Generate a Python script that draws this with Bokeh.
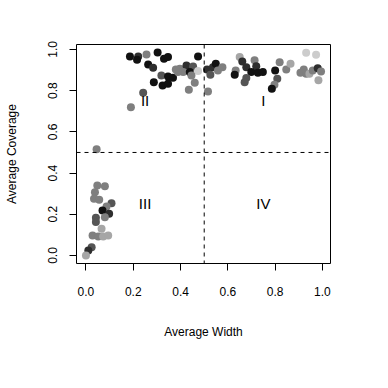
from bokeh.plotting import figure
from bokeh.models import Range1d, Span, ColumnDataSource, FixedTicker
from bokeh.embed import file_html
from bokeh.resources import INLINE
from bokeh.core.properties import value

# ---- data ----
avg_width = [
    0.186, 0.221, 0.216, 0.256, 0.303, 0.330, 0.347, 0.474, 0.263, 0.284,
    0.397, 0.425, 0.453, 0.474, 0.411, 0.439, 0.319, 0.347, 0.368, 0.446,
    0.287, 0.324, 0.347, 0.460, 0.435, 0.242, 0.190, 0.389, 0.380,
    0.512, 0.537, 0.549, 0.526, 0.558, 0.577, 0.516, 0.633, 0.629, 0.650,
    0.661, 0.678, 0.713, 0.720, 0.699, 0.727, 0.748, 0.678, 0.671, 0.800,
    0.819, 0.847, 0.865, 0.809, 0.797, 0.786, 0.931, 0.973, 0.907, 0.921,
    0.931, 0.945, 0.959, 0.980, 0.994, 0.983,
    0.045, 0.048, 0.080, 0.038, 0.034, 0.056, 0.108, 0.087, 0.070, 0.098,
    0.080, 0.042, 0.042, 0.066, 0.028, 0.052, 0.073, 0.094, 0.024, 0.010,
    0.000,
]
avg_coverage = [
    0.966, 0.966, 0.950, 0.976, 0.985, 0.955, 0.963, 0.966, 0.927, 0.911,
    0.906, 0.922, 0.917, 0.895, 0.890, 0.890, 0.874, 0.869, 0.863, 0.874,
    0.841, 0.825, 0.833, 0.838, 0.804, 0.790, 0.720, 0.890, 0.903,
    0.903, 0.914, 0.931, 0.877, 0.898, 0.914, 0.796, 0.898, 0.877, 0.963,
    0.942, 0.914, 0.947, 0.919, 0.890, 0.887, 0.890, 0.861, 0.841, 0.898,
    0.938, 0.903, 0.931, 0.858, 0.829, 0.809, 0.984, 0.974, 0.887, 0.903,
    0.882, 0.882, 0.898, 0.909, 0.893, 0.850,
    0.515, 0.340, 0.336, 0.307, 0.275, 0.270, 0.254, 0.238, 0.218, 0.202,
    0.186, 0.183, 0.162, 0.130, 0.097, 0.092, 0.092, 0.097, 0.040, 0.024,
    0.000,
]
shade = [
    "black", "dark", "black", "gray", "black", "black", "black", "black", "black", "dark",
    "gray", "dark", "darkgray", "light", "gray", "black", "darkgray", "black", "black", "gray",
    "black", "black", "black", "gray", "gray", "darkgray", "gray", "gray", "gray",
    "dark", "dark", "black", "darkgray", "gray", "gray", "gray", "gray", "black", "lightgray",
    "dark", "dark", "gray", "dark", "black", "black", "black", "darkgray", "darkgray", "black",
    "gray", "gray", "lightgray", "darkgray", "gray", "black", "light", "light", "gray", "gray",
    "gray", "lightgray", "gray", "dark", "gray", "lightgray",
    "gray", "gray", "gray", "gray", "gray", "gray", "darkgray", "gray", "black", "dark",
    "gray", "darkgray", "darkgray", "lightgray", "gray", "gray", "lightgray", "lightgray", "darkgray", "dark",
    "lightgray",
]
x_ticks = [0.0, 0.2, 0.4, 0.6, 0.8, 1.0]
y_ticks = [0.0, 0.2, 0.4, 0.6, 0.8, 1.0]
quad_labels = ["I", "II", "III", "IV"]
quad_x = [0.75, 0.25, 0.25, 0.75]
quad_y = [0.75, 0.75, 0.25, 0.25]
x_cut = 0.5
y_cut = 0.5

palette = {
    "black": "#111111", "dark": "#2e2e2e", "darkgray": "#555555",
    "gray": "#7f7f7f", "lightgray": "#a6a6a6", "light": "#cccccc",
}
colors = [palette[s] for s in shade]

FONT = "Liberation Sans"

p = figure(width=372, height=372, output_backend="svg", toolbar_location=None,
           x_range=Range1d(-0.04, 1.034), y_range=Range1d(-0.039, 1.024),
           min_border_left=76, min_border_right=42, min_border_top=44, min_border_bottom=109,
           x_axis_label="Average Width", y_axis_label="Average Coverage")

p.xgrid.visible = False
p.ygrid.visible = False
p.outline_line_color = "black"
p.outline_line_width = 1
p.background_fill_color = "white"
p.border_fill_color = "white"

for ax in (p.xaxis[0], p.yaxis[0]):
    ax.axis_line_color = None
    ax.major_tick_out = 7
    ax.major_tick_in = 0
    ax.minor_tick_line_color = None
    ax.major_tick_line_color = "black"
    ax.major_label_text_font = FONT
    ax.major_label_text_font_size = "12px"
    ax.major_label_text_color = "black"
    ax.axis_label_text_font = FONT
    ax.axis_label_text_font_size = "12px"
    ax.axis_label_text_font_style = "normal"
    ax.axis_label_text_color = "black"

p.xaxis.ticker = FixedTicker(ticks=x_ticks)
p.yaxis.ticker = FixedTicker(ticks=y_ticks)
p.xaxis.major_label_overrides = {t: f"{t:.1f}" for t in x_ticks}
p.yaxis.major_label_overrides = {t: f"{t:.1f}" for t in y_ticks}
p.yaxis.major_label_orientation = "vertical"
p.xaxis.major_label_standoff = 16
p.yaxis.major_label_standoff = 12
p.xaxis.axis_label_standoff = 26
p.yaxis.axis_label_standoff = 27

src = ColumnDataSource(dict(x=avg_width, y=avg_coverage, c=colors))
p.scatter("x", "y", source=src, size=8, fill_color="c", line_color="c", line_width=0)

p.add_layout(Span(location=x_cut, dimension="height", line_color="black",
                  line_dash="4 4", line_width=1))
p.add_layout(Span(location=y_cut, dimension="width", line_color="black",
                  line_dash="4 4", line_width=1))

p.text(x=quad_x, y=quad_y, text=quad_labels, text_font=value(FONT),
       text_font_size="15px", text_align="center", text_baseline="middle",
       text_color="black")

open("out.html", "w").write(file_html(p, INLINE))
